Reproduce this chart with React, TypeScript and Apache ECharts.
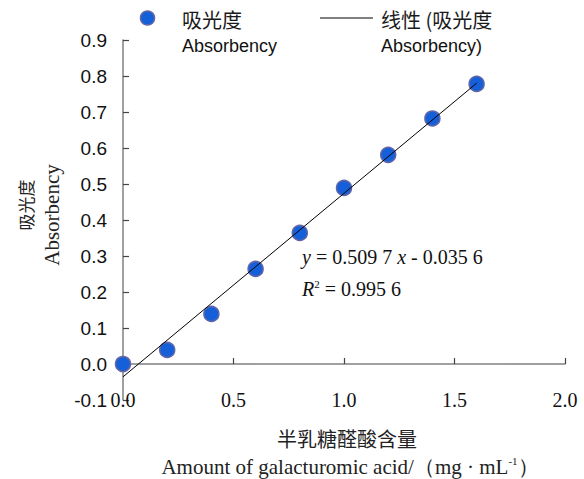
import React, { useEffect, useRef } from "react";
import * as echarts from "echarts";

const concentrations = [0, 0.2, 0.4, 0.6, 0.8, 1.0, 1.2, 1.4, 1.6];
const absorbency = [0.0, 0.039, 0.139, 0.264, 0.364, 0.489, 0.581, 0.682, 0.778];
const trendX = [0, 1.6];
const trendY = [-0.0356, 0.7799];
const xTicks = { min: 0, max: 2, interval: 0.5 };
const yTicks = { min: -0.1, max: 0.9, interval: 0.1 };

const SANS = "'Liberation Sans', Arial, sans-serif";
const SERIF = "'Liberation Serif', 'Times New Roman', serif";
const CJK = "'Noto Sans CJK SC', sans-serif";
const DOT_FILL = "#1560D8";
const DOT_BORDER = "#6266A6";
const AXIS_GRAY = "#808080";

export default function App() {
  const ref = useRef<HTMLDivElement>(null);
  useEffect(() => {
    if (!ref.current) return;
    const chart = echarts.init(ref.current, null, { renderer: "svg" });
    const option: any = {
      animation: false,
      backgroundColor: "#ffffff",
      grid: { left: 123, right: 19, top: 40, bottom: 79, containLabel: false },
      xAxis: [
        {
          type: "value",
          position: "bottom",
          min: xTicks.min,
          max: xTicks.max,
          interval: xTicks.interval,
          axisLine: { show: false, onZero: false },
          axisTick: { show: false },
          splitLine: { show: false },
          axisLabel: {
            formatter: (v: number) => v.toFixed(1),
            fontFamily: SERIF,
            fontSize: 20,
            color: "#111",
            verticalAlign: "middle",
            margin: 0,
          },
        },
        {
          type: "value",
          position: "top",
          min: xTicks.min,
          max: xTicks.max,
          interval: xTicks.interval,
          axisLine: { show: true, onZero: true, lineStyle: { color: AXIS_GRAY, width: 1.5 } },
          axisTick: { show: true, inside: false, length: 6, lineStyle: { color: "#444", width: 1.2 } },
          splitLine: { show: false },
          axisLabel: { show: false },
        },
      ],
      yAxis: {
        type: "value",
        min: yTicks.min,
        max: yTicks.max,
        interval: yTicks.interval,
        axisLine: { show: true, onZero: false, lineStyle: { color: AXIS_GRAY, width: 1.5 } },
        axisTick: { show: true, inside: true, length: 6, lineStyle: { color: "#444", width: 1.2 } },
        splitLine: { show: false },
        axisLabel: {
          formatter: (v: number) => v.toFixed(1),
          fontFamily: SANS,
          fontSize: 19,
          color: "#111",
          margin: 16,
        },
      },
      series: [
        {
          type: "scatter",
          xAxisIndex: 0,
          data: concentrations.map((x, i) => [x, absorbency[i]]),
          symbol: "circle",
          symbolSize: 15,
          itemStyle: { color: DOT_FILL, borderColor: DOT_BORDER, borderWidth: 1.5, opacity: 1 },
          z: 2,
        },
        {
          type: "line",
          xAxisIndex: 0,
          data: trendX.map((x, i) => [x, trendY[i]]),
          showSymbol: false,
          symbol: "none",
          lineStyle: { color: "#000", width: 1 },
          z: 3,
        },
      ],
      graphic: [
        // legend
        { type: "circle", shape: { cx: 147.5, cy: 18, r: 7 }, style: { fill: DOT_FILL, stroke: DOT_BORDER, lineWidth: 1.5 } },
        { type: "text", x: 182, y: 19, style: { text: "吸光度", font: `20px ${CJK}`, fill: "#1a1a1a", verticalAlign: "middle" } },
        { type: "text", x: 182, y: 46, style: { text: "Absorbency", font: `18px ${SANS}`, fill: "#111", verticalAlign: "middle" } },
        { type: "line", shape: { x1: 320, y1: 18, x2: 373, y2: 18 }, style: { stroke: "#000", lineWidth: 1 } },
        { type: "text", x: 381, y: 19, style: { text: "线性 (吸光度", font: `20px ${CJK}`, fill: "#1a1a1a", verticalAlign: "middle" } },
        { type: "text", x: 381, y: 46, style: { text: "Absorbency)", font: `18px ${SANS}`, fill: "#111", verticalAlign: "middle" } },
        // equation
        {
          type: "text",
          x: 302,
          y: 257,
          style: {
            text: "{i|y}{n| = 0.509 7 }{i|x}{n| - 0.035 6}",
            verticalAlign: "middle",
            rich: {
              i: { fontFamily: SERIF, fontSize: 20, fontStyle: "italic", fill: "#111" },
              n: { fontFamily: SERIF, fontSize: 20, fill: "#111" },
            },
          },
        },
        {
          type: "text",
          x: 302,
          y: 289,
          style: {
            text: "{i|R}{s|2}{n| = 0.995 6}",
            verticalAlign: "middle",
            rich: {
              i: { fontFamily: SERIF, fontSize: 20, fontStyle: "italic", fill: "#111", lineHeight: 22 },
              s: { fontFamily: SERIF, fontSize: 11, fill: "#111", verticalAlign: "top", lineHeight: 22 },
              n: { fontFamily: SERIF, fontSize: 20, fill: "#111", lineHeight: 22 },
            },
          },
        },
        // y axis title
        {
          type: "text",
          x: 25,
          y: 205,
          rotation: Math.PI / 2,
          style: { text: "吸光度", font: `17px ${CJK}`, fill: "#222", align: "center", verticalAlign: "middle" },
        },
        {
          type: "text",
          x: 52,
          y: 215,
          rotation: Math.PI / 2,
          style: { text: "Absorbency", font: `21px ${SERIF}`, fill: "#222", align: "center", verticalAlign: "middle" },
        },
        // x axis title
        {
          type: "text",
          x: 347,
          y: 438,
          style: { text: "半乳糖醛酸含量", font: `20px ${CJK}`, fill: "#222", align: "center", verticalAlign: "middle" },
        },
        {
          type: "text",
          x: 350,
          y: 467,
          style: {
            text: "{n|Amount of galacturomic acid/（mg · mL}{s|-1}{n|）}",
            align: "center",
            verticalAlign: "middle",
            rich: {
              n: { fontFamily: SERIF, fontSize: 21, fill: "#222", lineHeight: 23 },
              s: { fontFamily: SERIF, fontSize: 11, fill: "#222", verticalAlign: "top", lineHeight: 23 },
            },
          },
        },
      ],
    };
    chart.setOption(option);
    return () => chart.dispose();
  }, []);
  return (
    <div
      ref={ref}
      style={{ position: "fixed", left: 0, top: 0, width: 584, height: 479, background: "#fff" }}
    />
  );
}
